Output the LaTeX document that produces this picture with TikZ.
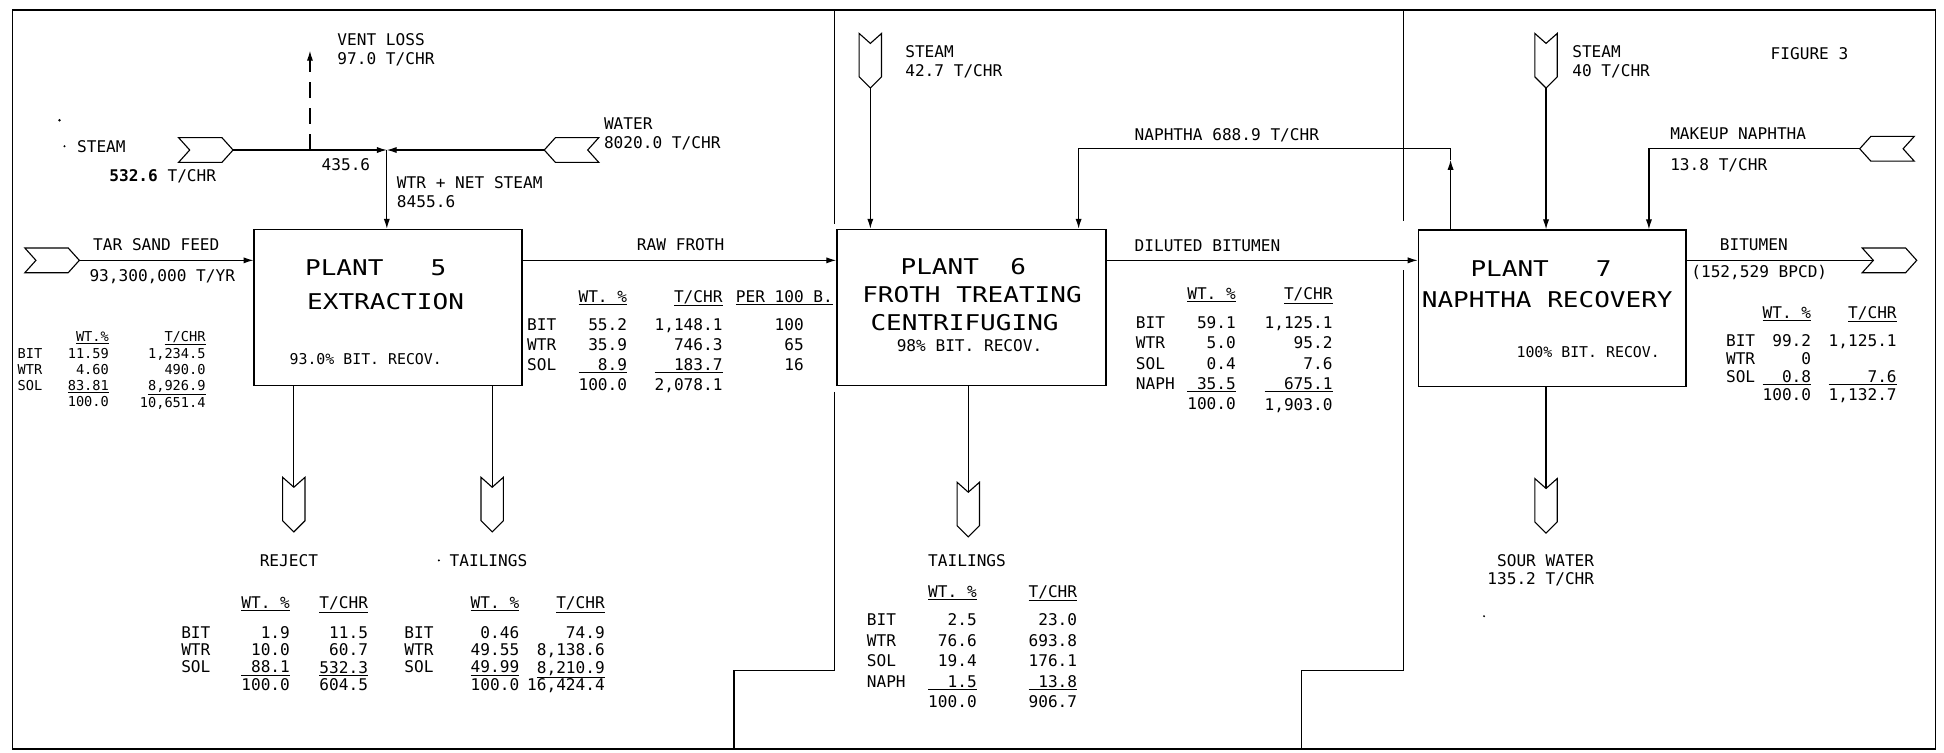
\documentclass[tikz,border=0pt]{standalone}
\usepackage{fontspec}
\setmainfont{DejaVu Sans Mono}
\newfontfamily\titlefont[FakeStretch=1.2]{DejaVu Sans Mono}
\usetikzlibrary{arrows.meta}
\newcommand\tabfont[1]{\fontsize{13}{#1}\selectfont}
\tikzset{
  tagR/.pic={\draw[tagln] (-22,-10) -- (13,-10) -- (22,0) -- (13,10) -- (-22,10) -- (-13,0) -- cycle;
    \coordinate (-tip) at (22,0); \coordinate (-tail) at (-13,0);},
  tagL/.pic={\draw[tagln] (22,-10) -- (-13,-10) -- (-22,0) -- (-13,10) -- (22,10) -- (13,0) -- cycle;
    \coordinate (-tip) at (-22,0); \coordinate (-tail) at (13,0);},
  tagD/.pic={\draw[tagln] (-9,-22) -- (0,-14) -- (9,-22) -- (9,13) -- (0,22) -- (-9,13) -- cycle;
    \coordinate (-tip) at (0,22); \coordinate (-tail) at (0,-14);},
}
\begin{document}
\begin{tikzpicture}[x=1pt,y=-1pt,
  every node/.style={inner sep=0pt},
  lbl/.style={font=\fontsize{13}{15}\selectfont, align=left},
  ttl/.style={font=\titlefont\fontsize{17.5}{20}\selectfont},
  rec/.style={font=\fontsize{12}{14}\selectfont},
  plant/.style={draw, line width=1.1pt, minimum width=216pt, minimum height=126pt},
  flow/.style={line width=0.9pt, -{Latex[length=8pt,width=5pt]}},
  pipe/.style={line width=0.9pt},
  tagln/.style={line width=0.9pt, fill=white, line join=miter},
  divider/.style={line width=0.9pt},
  tcol/.style={anchor=north east, align=right},
  tlab/.style={anchor=north west, align=left},
  speck/.style={fill=black, circle, minimum size=2.2pt},
]
\useasboundingbox (0,0) rectangle (1568,607);
\fill[white] (0,0) rectangle (1568,607);

% frame
\draw[line width=1.2pt] (10,8) rectangle (1561,604);
\draw[line width=2.2pt] (10,8) -- (1561,8);

% dividers
\draw[divider] (673,8) -- (673,181);
\draw[divider] (673,316) -- (673,541) -- (592,541) -- (592,604);
\draw[divider] (1132,8) -- (1132,178);
\draw[divider] (1132,218) -- (1132,541) -- (1050,541) -- (1050,604);

% plants
\node[plant] (P5) at (313,248) {};
\node[plant, minimum width=217pt] (P6) at (783.5,248) {};
\node[plant] (P7) at (1252,248.5) {};
\coordinate (yl) at (0,210);

\node[ttl] (p5a) at (303,216) {PLANT\ \ \ 5};
\node[ttl] (p5b) at (311,243) {EXTRACTION};
\node[rec] (p5c) at (295,290) {93.0\% BIT. RECOV.};

\node[ttl] (p6a) at (777,215) {PLANT\ \ 6};
\node[ttl] (p6b) at (784,238) {FROTH TREATING};
\node[ttl] (p6c) at (778,260) {CENTRIFUGING};
\node[font=\fontsize{13}{15}\selectfont] (p6d) at (782,279) {98\% BIT. RECOV.};

\node[ttl] (p7a) at (1243,217) {PLANT\ \ \ 7};
\node[ttl] (p7b) at (1248,242) {NAPHTHA RECOVERY};
\node[rec] (p7c) at (1281,284) {100\% BIT. RECOV.};

% ---------- left section ----------
\node[speck] (sp1) at (48,97) {};
\node[speck, minimum size=1.8pt] (sp2) at (52,118) {};
\node[lbl, anchor=west] (stmlbl) at (62,118) {STEAM};
\node[lbl, anchor=west] (stmq) at (88,142) {\textbf{532.6} T/CHR};
\pic (stm5) at (166,121) {tagR};
\pic (wat) at (461,121) {tagL};
\coordinate (J1) at (312,121);
\coordinate (V1) at (250,121);
\coordinate (V1top) at (250,41);
\draw[flow] (stm5-tip) -- (J1);
\draw[flow] (wat-tip) -- (J1);
\draw[flow] (J1) -- (J1 |- P5.north);
\draw[flow, dash pattern=on 13pt off 8pt] (V1) -- (V1top);
\node[lbl, anchor=west] (ventlbl) at (272,40) {VENT LOSS\\97.0 T/CHR};
\node[lbl, anchor=west] (watlbl) at (487,108) {WATER\\8020.0 T/CHR};
\node[lbl] (n4356) at (279,133) {435.6};
\node[lbl, anchor=west] (wns) at (320,155) {WTR + NET STEAM\\8455.6};

\pic (tsf) at (42,210) {tagR};
\draw[flow] (tsf-tip) -- (tsf-tip -| P5.west);
\node[lbl, anchor=west] (tsflbl) at (75,197) {TAR SAND FEED};
\node[lbl, anchor=west] (tsfq) at (72,223) {93,300,000 T/YR};

\node[tlab, font=\fontsize{11}{13}\selectfont] (ftl) at (14,267) {\phantom{T}\\[1pt]BIT\\WTR\\SOL};
\node[tcol, font=\fontsize{11}{13}\selectfont] (ftw) at (88,267) {\underline{WT.\%}\\[1pt]11.59\\4.60\\\underline{83.81}\\100.0};
\node[tcol, font=\fontsize{11}{13}\selectfont] (ftt) at (166,267) {\underline{T/CHR}\\[1pt]1,234.5\\490.0\\\underline{8,926.9}\\10,651.4};

% raw froth
\draw[flow] (P5.east |- yl) -- (P6.west |- yl);
\node[lbl] (rflbl) at (549,197) {RAW FROTH};
\node[tlab, font=\tabfont{16}] (rfl) at (425,234) {\phantom{T}\\[7pt]BIT\\WTR\\SOL};
\node[tcol, font=\tabfont{16}] (rfw) at (506,234) {\underline{WT.\ \%}\\[7pt]55.2\\35.9\\\underline{\hphantom{10}8.9}\\100.0};
\node[tcol, font=\tabfont{16}] (rft) at (583,234) {\underline{T/CHR}\\[7pt]1,148.1\\746.3\\\underline{\hphantom{2,}183.7}\\2,078.1};
\node[tcol, font=\tabfont{16}] (rfp) at (672,234) {\underline{PER 100 B.}\\[7pt]100\hphantom{000}\\65\hphantom{000}\\16\hphantom{000}};

% plant 5 outputs
\pic (rej) at (237,407) {tagD};
\pic (tl5) at (397,407) {tagD};
\draw[pipe] (rej-tail |- P5.south) -- (rej-tail);
\draw[pipe] (tl5-tail |- P5.south) -- (tl5-tail);
\node[lbl] (rejlbl) at (233,452) {REJECT};
\node[lbl] (tl5lbl) at (394,452) {TAILINGS};
\node[speck, minimum size=1.8pt] (sp3) at (354,452) {};

\node[tlab, font=\tabfont{14}] (rjl) at (146,481) {\phantom{T}\\[10pt]BIT\\WTR\\SOL};
\node[tcol, font=\tabfont{14}] (rjw) at (234,481) {\underline{WT.\ \%}\\[10pt]1.9\\10.0\\\underline{\hphantom{1}88.1}\\100.0};
\node[tcol, font=\tabfont{14}] (rjt) at (297,481) {\underline{T/CHR}\\[10pt]11.5\\60.7\\\underline{532.3}\\604.5};

\node[tlab, font=\tabfont{14}] (t5l) at (326,481) {\phantom{T}\\[10pt]BIT\\WTR\\SOL};
\node[tcol, font=\tabfont{14}] (t5w) at (419,481) {\underline{WT.\ \%}\\[10pt]0.46\\49.55\\\underline{49.99}\\100.0};
\node[tcol, font=\tabfont{14}] (t5t) at (488,481) {\underline{T/CHR}\\[10pt]74.9\\8,138.6\\\underline{8,210.9}\\16,424.4};

% ---------- middle section ----------
\pic (stm6) at (702,49) {tagD};
\draw[flow] (stm6-tip) -- (stm6-tip |- P6.north);
\node[lbl, anchor=west] (stm6lbl) at (730,50) {STEAM\\42.7 T/CHR};

\coordinate (N1) at (1170,120);
\coordinate (N1a) at (1170,129);
\coordinate (N2) at (870,120);
\draw[flow] (N1 |- P7.north) -- (N1a);
\draw[flow] (N1a) -- (N1) -- (N2) -- (N2 |- P6.north);
\node[lbl, anchor=west] (naplbl) at (915,109) {NAPHTHA 688.9 T/CHR};

\draw[flow] (P6.east |- yl) -- (P7.west |- yl);
\node[lbl, anchor=west] (dblbl) at (915,198) {DILUTED BITUMEN};
\node[tlab, font=\tabfont{16.5}] (dbl) at (916,232) {\phantom{T}\\[6.5pt]BIT\\WTR\\SOL\\NAPH};
\node[tcol, font=\tabfont{16.5}] (dbw) at (997,232) {\underline{WT.\ \%}\\[6.5pt]59.1\\5.0\\0.4\\\underline{\hphantom{1}35.5}\\100.0};
\node[tcol, font=\tabfont{16.5}] (dbt) at (1075,232) {\underline{T/CHR}\\[6.5pt]1,125.1\\95.2\\7.6\\\underline{\hphantom{1,}675.1}\\1,903.0};

\pic (tl6) at (781,411) {tagD};
\draw[pipe] (tl6-tail |- P6.south) -- (tl6-tail);
\node[lbl] (tl6lbl) at (780,452) {TAILINGS};
\node[tlab, font=\tabfont{16.5}] (t6l) at (699,472) {\phantom{T}\\[6.5pt]BIT\\WTR\\SOL\\NAPH};
\node[tcol, font=\tabfont{16.5}] (t6w) at (788,472) {\underline{WT.\ \%}\\[6.5pt]2.5\\76.6\\19.4\\\underline{\hphantom{10}1.5}\\100.0};
\node[tcol, font=\tabfont{16.5}] (t6t) at (869,472) {\underline{T/CHR}\\[6.5pt]23.0\\693.8\\176.1\\\underline{\hphantom{9}13.8}\\906.7};

% ---------- right section ----------
\pic (stm7) at (1247,49) {tagD};
\draw[flow] (stm7-tip) -- (stm7-tip |- P7.north);
\node[lbl, anchor=west] (stm7lbl) at (1268,50) {STEAM\\40 T/CHR};
\node[lbl, anchor=west] (figlbl) at (1428,43) {FIGURE 3};

\pic (mku) at (1522,120) {tagL};
\coordinate (M1) at (1330,120);
\draw[flow] (mku-tip) -- (M1) -- (M1 |- P7.north);
\node[lbl, anchor=west] (mkulbl) at (1347,108) {MAKEUP NAPHTHA};
\node[lbl, anchor=west] (mkuq) at (1347,133) {13.8 T/CHR};

\pic (bit) at (1524,210) {tagR};
\draw[pipe] (bit-tail -| P7.east) -- (bit-tail);
\node[lbl, anchor=west] (bitlbl) at (1387,197) {BITUMEN};
\node[lbl, anchor=west] (bitq) at (1364,220) {(152,529 BPCD)};
\node[tlab, font=\tabfont{14.5}] (btl) at (1392,247) {\phantom{T}\\[8pt]BIT\\WTR\\SOL};
\node[tcol, font=\tabfont{14.5}] (btw) at (1461,247) {\underline{WT.\ \%}\\[8pt]99.2\\0\\\underline{\hphantom{10}0.8}\\100.0};
\node[tcol, font=\tabfont{14.5}] (btt) at (1530,247) {\underline{T/CHR}\\[8pt]1,125.1\\\phantom{0}\\\underline{\hphantom{1,13}7.6}\\1,132.7};

\pic (sw) at (1247,408) {tagD};
\draw[pipe] (sw-tail |- P7.south) -- (sw-tail);
\node[lbl, align=right, anchor=east] (swlbl) at (1286,460) {SOUR WATER\\135.2 T/CHR};
\node[speck, minimum size=1.8pt] (sp4) at (1197,497) {};
\end{tikzpicture}
\end{document}
